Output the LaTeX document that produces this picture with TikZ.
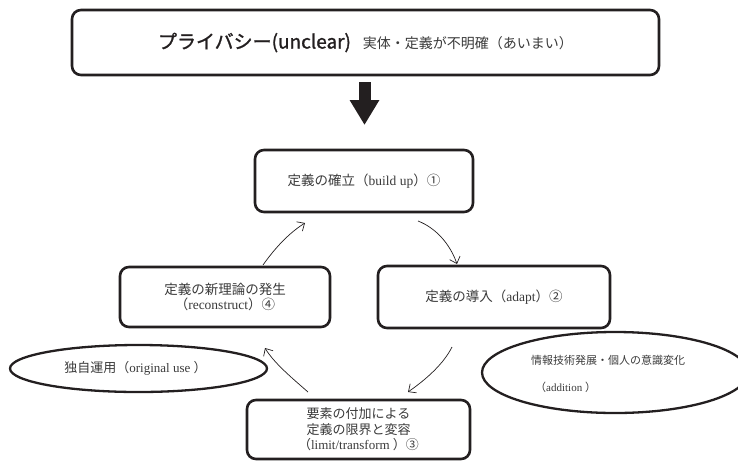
\documentclass[tikz,border=0pt]{standalone}
\usepackage{fontspec}
\setmainfont{Liberation Serif}
\newfontfamily\jp{Noto Sans CJK JP}
\newfontfamily\jph{Noto Sans CJK JP}[FakeBold=1.3]
\usetikzlibrary{shapes.geometric,arrows.meta}
\definecolor{ink}{HTML}{231F20}
\definecolor{txt}{HTML}{3A3A3A}
\newcommand{\J}[1]{{\jp #1}}
\begin{document}
\begin{tikzpicture}[x=1pt,y=-1pt,
  box/.style={draw=ink, line width=2.6pt, rounded corners=9pt, fill=white, text=txt, align=center, inner sep=0pt},
  oval/.style={draw=ink, line width=2.3pt, ellipse, inner sep=0pt, text=txt},
  flow/.style={draw=ink, line width=0.7pt, -{Straight Barb[length=6pt,width=11pt]}},
  bigarrow/.style={draw=ink, line width=12pt, -{Triangle[length=25pt,width=28pt]}},
  mid/.style={font=\fontsize{13.5}{15}\selectfont}]
\useasboundingbox (0,0) rectangle (738,461);

% top box
\node[box, text=ink, minimum width=587pt, minimum height=65pt] (top) at (365.5,42.5)
  {{\jph\fontsize{19}{22}\selectfont プライバシー(unclear)}\hspace{12pt}{\jp\color{txt}\fontsize{14}{16}\selectfont 実体・定義が不明確（あいまい）}};

\coordinate (ba1) at (364.5,82);
\coordinate (ba2) at (364.5,125);
\draw[bigarrow] (ba1) -- (ba2);

% cycle boxes
\node[box, mid, minimum width=218pt, minimum height=62pt] (b1) at (364,181)
  {\J{定義の確立（}build up\J{）①}};
\node[box, mid, minimum width=232pt, minimum height=62pt] (b2) at (494,297)
  {\J{定義の導入（}adapt\J{）②}};
\node[box, mid, minimum width=210pt, minimum height=60pt] (b4) at (225,297)
  {\J{定義の新理論の発生}\\\J{（}reconstruct\J{）④}};
\node[box, font=\fontsize{13}{15.5}\selectfont, minimum width=223pt, minimum height=59pt] (b3) at (358.5,429.5)
  {\J{要素の付加による}\\\J{定義の限界と変容}\\\J{（}limit/transform \J{）③}};

% ellipses
\node[oval, font=\fontsize{13}{15}\selectfont, minimum width=257pt, minimum height=47pt] (eL) at (138.5,368.5)
  {\hspace*{-6pt}\J{独自運用（}original use \J{）}};
\node[oval, minimum width=266pt, minimum height=81pt] (eR) at (615,372.5) {};
\node[text=txt, align=left, font=\fontsize{11}{27}\selectfont, anchor=north west, inner sep=0pt] (eRt) at (531,355)
  {\J{情報技術発展・個人の意識変化}\\\hspace*{4pt}\J{（}addition \J{）}};

% curved connectors
\coordinate (c1s) at (418,221); \coordinate (c1e) at (457,264);
\coordinate (c2s) at (263,265); \coordinate (c2e) at (305,223);
\coordinate (c3s) at (452,347); \coordinate (c3e) at (408,392);
\coordinate (c4s) at (308,392); \coordinate (c4e) at (265,348);
\draw[flow] (c1s) .. controls (436,228) and (450,244) .. (c1e);
\draw[flow] (c2s) .. controls (275,248) and (289,233) .. (c2e);
\draw[flow] (c3s) .. controls (444,363) and (428,378) .. (c3e);
\draw[flow] (c4s) .. controls (292,378) and (274,363) .. (c4e);
\end{tikzpicture}
\end{document}
